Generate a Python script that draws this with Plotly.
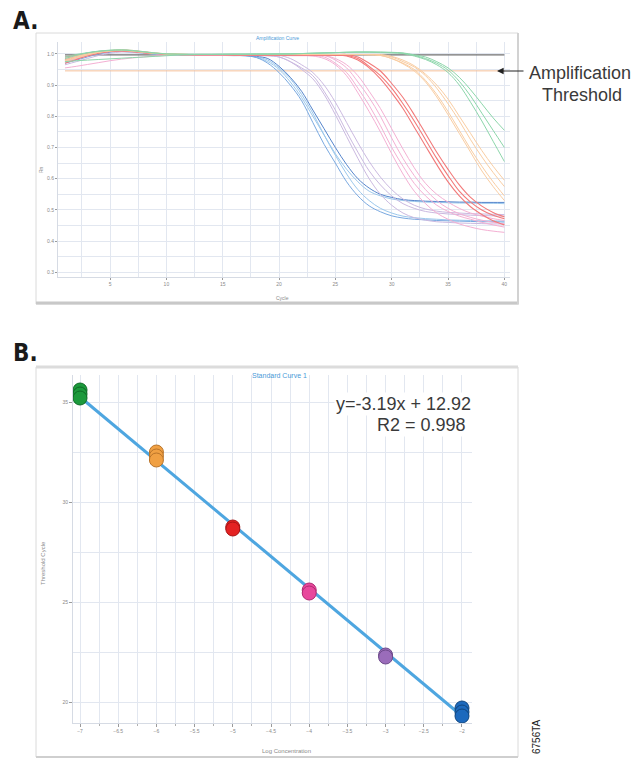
import plotly.graph_objects as go

W, H = 635, 759


def px(x):
    return x / W


def py(y):
    return 1 - y / H


# ---------------- Panel A data: amplification curves (normalised signal per cycle) ----------------
cycles = list(range(1, 41))

blue_1 = [0.970, 0.980, 0.990, 1.000, 1.005, 1.010, 1.008, 1.003, 1.000, 0.998,
          0.997, 0.996, 0.996, 0.996, 0.995, 0.995, 0.994, 0.988, 0.970, 0.940,
          0.900, 0.850, 0.780, 0.710, 0.650, 0.590, 0.545, 0.513, 0.494, 0.481,
          0.474, 0.470, 0.468, 0.466, 0.465, 0.464, 0.463, 0.462, 0.462, 0.461]
blue_2 = [0.985, 0.995, 1.003, 1.008, 1.010, 1.008, 1.005, 1.002, 0.999, 0.997,
          0.996, 0.996, 0.995, 0.995, 0.995, 0.994, 0.994, 0.990, 0.980, 0.955,
          0.920, 0.870, 0.810, 0.740, 0.675, 0.615, 0.565, 0.530, 0.505, 0.490,
          0.480, 0.475, 0.472, 0.470, 0.468, 0.467, 0.466, 0.465, 0.465, 0.464]
blue_3 = [0.975, 0.985, 0.995, 1.003, 1.008, 1.012, 1.010, 1.005, 1.000, 0.998,
          0.997, 0.996, 0.996, 0.995, 0.995, 0.995, 0.994, 0.989, 0.975, 0.950,
          0.910, 0.860, 0.800, 0.740, 0.680, 0.630, 0.590, 0.560, 0.545, 0.535,
          0.530, 0.527, 0.525, 0.524, 0.523, 0.522, 0.522, 0.521, 0.521, 0.520]
blue_4 = [0.980, 0.990, 0.998, 1.004, 1.007, 1.008, 1.006, 1.003, 1.000, 0.998,
          0.997, 0.997, 0.996, 0.996, 0.995, 0.995, 0.995, 0.992, 0.985, 0.960,
          0.925, 0.880, 0.820, 0.760, 0.700, 0.645, 0.600, 0.570, 0.550, 0.540,
          0.533, 0.530, 0.528, 0.527, 0.526, 0.525, 0.525, 0.524, 0.524, 0.524]

purple_1 = [0.965, 0.975, 0.985, 0.995, 1.002, 1.006, 1.006, 1.004, 1.001, 0.999,
            0.998, 0.997, 0.997, 0.996, 0.996, 0.996, 0.995, 0.995, 0.994, 0.990,
            0.975, 0.955, 0.930, 0.880, 0.820, 0.750, 0.685, 0.625, 0.580, 0.545,
            0.520, 0.505, 0.495, 0.490, 0.487, 0.485, 0.483, 0.482, 0.481, 0.480]
purple_2 = [0.980, 0.990, 0.998, 1.004, 1.008, 1.008, 1.005, 1.002, 1.000, 0.998,
            0.997, 0.997, 0.996, 0.996, 0.996, 0.995, 0.995, 0.995, 0.995, 0.995,
            0.985, 0.965, 0.940, 0.900, 0.845, 0.780, 0.715, 0.655, 0.605, 0.565,
            0.535, 0.515, 0.503, 0.496, 0.492, 0.490, 0.488, 0.487, 0.486, 0.485]
purple_3 = [0.990, 0.995, 1.000, 1.005, 1.008, 1.010, 1.008, 1.004, 1.001, 0.999,
            0.998, 0.997, 0.996, 0.996, 0.995, 0.995, 0.995, 0.994, 0.994, 0.990,
            0.975, 0.950, 0.920, 0.870, 0.805, 0.735, 0.665, 0.600, 0.550, 0.515,
            0.490, 0.475, 0.467, 0.462, 0.460, 0.458, 0.457, 0.456, 0.455, 0.455]

pink_1 = [0.955, 0.960, 0.966, 0.972, 0.978, 0.983, 0.987, 0.990, 0.993, 0.995,
          0.996, 0.997, 0.997, 0.997, 0.997, 0.997, 0.997, 0.996, 0.996, 0.996,
          0.996, 0.995, 0.994, 0.990, 0.970, 0.940, 0.890, 0.835, 0.770, 0.700,
          0.640, 0.585, 0.545, 0.515, 0.495, 0.480, 0.470, 0.460, 0.452, 0.445]
pink_2 = [0.975, 0.985, 0.995, 1.003, 1.008, 1.010, 1.008, 1.004, 1.001, 0.999,
          0.998, 0.997, 0.997, 0.996, 0.996, 0.996, 0.996, 0.996, 0.995, 0.995,
          0.995, 0.995, 0.995, 0.995, 0.980, 0.955, 0.910, 0.860, 0.800, 0.730,
          0.665, 0.610, 0.565, 0.530, 0.505, 0.488, 0.476, 0.467, 0.460, 0.455]
pink_3 = [0.985, 0.993, 1.000, 1.006, 1.010, 1.012, 1.010, 1.006, 1.002, 0.999,
          0.998, 0.997, 0.996, 0.996, 0.996, 0.995, 0.995, 0.995, 0.995, 0.995,
          0.994, 0.994, 0.993, 0.985, 0.965, 0.930, 0.875, 0.815, 0.750, 0.680,
          0.615, 0.560, 0.520, 0.490, 0.470, 0.455, 0.445, 0.437, 0.432, 0.428]
pink_4 = [0.978, 0.988, 0.997, 1.004, 1.009, 1.011, 1.009, 1.005, 1.001, 0.999,
          0.998, 0.997, 0.997, 0.997, 0.996, 0.996, 0.996, 0.996, 0.996, 0.996,
          0.996, 0.996, 0.996, 0.995, 0.985, 0.965, 0.930, 0.880, 0.825, 0.760,
          0.695, 0.635, 0.585, 0.550, 0.525, 0.505, 0.490, 0.480, 0.472, 0.466]

red_1 = [0.970, 0.982, 0.993, 1.002, 1.008, 1.011, 1.010, 1.006, 1.002, 0.999,
         0.998, 0.997, 0.997, 0.997, 0.997, 0.997, 0.997, 0.997, 0.997, 0.997,
         0.997, 0.997, 0.997, 0.997, 0.996, 0.995, 0.985, 0.960, 0.930, 0.890,
         0.840, 0.785, 0.725, 0.665, 0.610, 0.560, 0.525, 0.500, 0.483, 0.472]
red_2 = [0.980, 0.990, 0.998, 1.004, 1.008, 1.009, 1.007, 1.004, 1.001, 0.999,
         0.998, 0.998, 0.997, 0.997, 0.997, 0.997, 0.997, 0.997, 0.997, 0.997,
         0.997, 0.997, 0.997, 0.997, 0.997, 0.998, 0.990, 0.970, 0.945, 0.905,
         0.860, 0.805, 0.745, 0.685, 0.630, 0.580, 0.540, 0.512, 0.492, 0.478]
red_3 = [0.990, 0.996, 1.002, 1.007, 1.010, 1.010, 1.008, 1.004, 1.001, 0.999,
         0.998, 0.997, 0.997, 0.997, 0.997, 0.996, 0.996, 0.996, 0.996, 0.996,
         0.996, 0.996, 0.996, 0.996, 0.996, 0.993, 0.980, 0.955, 0.920, 0.875,
         0.825, 0.765, 0.705, 0.645, 0.590, 0.545, 0.510, 0.485, 0.465, 0.452]

orange_1 = [0.975, 0.987, 0.997, 1.005, 1.010, 1.012, 1.010, 1.006, 1.002, 1.000,
            0.999, 0.998, 0.998, 0.998, 0.998, 0.998, 0.998, 0.998, 0.998, 0.998,
            0.998, 0.998, 0.998, 0.998, 0.998, 0.998, 0.998, 0.997, 0.995, 0.985,
            0.970, 0.950, 0.915, 0.870, 0.815, 0.755, 0.695, 0.640, 0.590, 0.545]
orange_2 = [0.985, 0.993, 1.000, 1.006, 1.010, 1.011, 1.009, 1.005, 1.002, 1.000,
            0.999, 0.998, 0.998, 0.998, 0.998, 0.998, 0.998, 0.998, 0.998, 0.998,
            0.998, 0.998, 0.998, 0.998, 0.998, 0.998, 0.998, 0.998, 0.997, 0.990,
            0.975, 0.958, 0.930, 0.890, 0.840, 0.785, 0.725, 0.670, 0.620, 0.575]
orange_3 = [0.980, 0.990, 0.999, 1.006, 1.011, 1.013, 1.011, 1.007, 1.003, 1.000,
            0.999, 0.998, 0.998, 0.998, 0.998, 0.998, 0.998, 0.998, 0.998, 0.998,
            0.998, 0.998, 0.998, 0.998, 0.998, 0.998, 0.998, 0.998, 0.998, 0.992,
            0.980, 0.962, 0.935, 0.900, 0.855, 0.800, 0.745, 0.690, 0.640, 0.595]
orange_4 = [0.978, 0.989, 0.998, 1.005, 1.009, 1.011, 1.009, 1.005, 1.002, 1.000,
            0.999, 0.998, 0.998, 0.998, 0.998, 0.998, 0.998, 0.998, 0.998, 0.998,
            0.998, 0.998, 0.998, 0.998, 0.998, 0.998, 0.998, 0.997, 0.995, 0.985,
            0.968, 0.945, 0.910, 0.862, 0.805, 0.745, 0.685, 0.625, 0.575, 0.530]

green_1 = [0.975, 0.978, 0.980, 0.982, 0.984, 0.986, 0.988, 0.990, 0.992, 0.994,
           0.996, 0.997, 0.998, 0.998, 0.999, 0.999, 0.999, 1.000, 1.000, 1.000,
           1.000, 1.001, 1.002, 1.003, 1.004, 1.005, 1.006, 1.006, 1.006, 1.005,
           1.003, 0.997, 0.990, 0.975, 0.955, 0.925, 0.885, 0.840, 0.795, 0.755]
green_2 = [0.985, 0.995, 1.003, 1.008, 1.011, 1.012, 1.010, 1.006, 1.002, 1.000,
           0.999, 0.999, 0.999, 0.999, 0.999, 0.999, 0.999, 0.999, 0.999, 1.000,
           1.000, 1.001, 1.002, 1.003, 1.004, 1.005, 1.006, 1.006, 1.005, 1.004,
           1.002, 0.995, 0.985, 0.970, 0.948, 0.912, 0.865, 0.810, 0.755, 0.700]
green_3 = [0.990, 0.998, 1.004, 1.009, 1.012, 1.013, 1.011, 1.007, 1.003, 1.000,
           0.999, 0.998, 0.998, 0.998, 0.998, 0.999, 0.999, 0.999, 0.999, 0.999,
           1.000, 1.001, 1.002, 1.003, 1.004, 1.005, 1.005, 1.005, 1.004, 1.003,
           1.001, 0.993, 0.982, 0.965, 0.940, 0.900, 0.845, 0.785, 0.720, 0.655]

ntc_cycles = [1, 40]
ntc_signal = [0.997, 0.997]
threshold = 0.9455

amp_tick_x = [5, 10, 15, 20, 25, 30, 35, 40]
amp_tick_y = [0.3, 0.4, 0.5, 0.6, 0.7, 0.8, 0.9, 1.0]

# ---------------- Panel B data: standard curve ----------------
log_conc = [-7, -6, -5, -4, -3, -2]
ct_replicates = [
    [35.6, 35.4, 35.2],
    [32.5, 32.3, 32.1],
    [28.75, 28.65],
    [25.6, 25.45],
    [22.35, 22.25],
    [19.7, 19.5, 19.3],
]
slope = -3.19
intercept = 12.92
r2 = 0.998
std_tick_x = [-7, -6.5, -6, -5.5, -5, -4.5, -4, -3.5, -3, -2.5, -2]
std_tick_y = [20, 25, 30, 35]

# ---------------- styles ----------------
amp_groups = [
    ([blue_2, blue_3], "#9cc8ec", 1.0),
    ([blue_1], "#78a8e0", 1.0),
    ([blue_4], "#5585cc", 1.0),
    ([purple_1, purple_2, purple_3], "#cbb9e0", 1.0),
    ([pink_1, pink_2, pink_3, pink_4], "#f4b0d3", 1.0),
    ([red_1, red_2, red_3], "#f27a7a", 1.1),
    ([orange_1, orange_2, orange_3, orange_4], "#f9cda2", 1.0),
    ([green_1, green_2, green_3], "#8cd6aa", 1.0),
]
pt_colors = ["#1c9a3c", "#f0a043", "#e42222", "#e8489c", "#9a6cba", "#1c69bd"]
pt_edges = ["#0e6b26", "#b9742a", "#a81414", "#b02a72", "#6d4a8a", "#10467f"]

fig = go.Figure()

# threshold + NTC lines
fig.add_trace(go.Scatter(x=[cycles[0], cycles[-1]], y=[threshold, threshold], mode="lines",
                         line=dict(color="#f5c09a", width=1), xaxis="x", yaxis="y",
                         showlegend=False, hoverinfo="skip"))
fig.add_trace(go.Scatter(x=ntc_cycles, y=ntc_signal, mode="lines",
                         line=dict(color="#707070", width=1.2), xaxis="x", yaxis="y",
                         showlegend=False, hoverinfo="skip"))

for curves, col, wd in amp_groups:
    for c in curves:
        fig.add_trace(go.Scatter(x=cycles, y=c, mode="lines",
                                 line=dict(color=col, width=wd, shape="spline"),
                                 xaxis="x", yaxis="y", showlegend=False, hoverinfo="skip"))

# standard curve fit line
fit_x = [log_conc[0], log_conc[-1]]
fit_y = [slope * v + intercept for v in fit_x]
fig.add_trace(go.Scatter(x=fit_x, y=fit_y, mode="lines",
                         line=dict(color="#4ea6e0", width=3),
                         xaxis="x2", yaxis="y2", showlegend=False, hoverinfo="skip"))

for xv, reps, col, edge in zip(log_conc, ct_replicates, pt_colors, pt_edges):
    fig.add_trace(go.Scatter(x=[xv] * len(reps), y=reps, mode="markers",
                             marker=dict(size=14, color=col, line=dict(color=edge, width=1)),
                             xaxis="x2", yaxis="y2", showlegend=False))

grid = "#e2e7f0"
tickfont = dict(family="Liberation Sans, Arial, sans-serif", size=5, color="#8a8a8a")

fig.update_layout(
    width=W, height=H,
    margin=dict(l=0, r=0, t=0, b=0),
    paper_bgcolor="white",
    plot_bgcolor="white",
    showlegend=False,
    xaxis=dict(domain=[px(58), px(510)], range=[0.38, 40.5], anchor="y",
               tickmode="array", tickvals=amp_tick_x, ticks="outside", ticklen=2,
               tickcolor="#9a9a9a", tickfont=tickfont,
               showgrid=True, gridcolor=grid, gridwidth=1,
               minor=dict(dtick=2.5, tick0=0, showgrid=True, gridcolor=grid, ticks=""),
               zeroline=False, showline=True, linecolor="#d6dbe4", linewidth=1),
    yaxis=dict(domain=[py(277), py(42)], range=[0.285, 1.038], anchor="x",
               tickmode="array", tickvals=amp_tick_y, tickformat=".1f",
               ticks="outside", ticklen=2, tickcolor="#9a9a9a", tickfont=tickfont,
               showgrid=True, gridcolor=grid, gridwidth=1,
               minor=dict(dtick=0.05, tick0=0, showgrid=True, gridcolor=grid, ticks=""),
               zeroline=False, showline=True, linecolor="#d6dbe4", linewidth=1),
    xaxis2=dict(domain=[px(73), px(472)], range=[-7.092, -1.869], anchor="y2",
                tickmode="array", tickvals=std_tick_x, ticks="outside", ticklen=3,
                tickcolor="#9a9a9a", tickfont=tickfont,
                showgrid=True, gridcolor=grid, gridwidth=1,
                minor=dict(dtick=0.25, tick0=-7, showgrid=True, gridcolor=grid,
                           ticks="outside", ticklen=2, tickcolor="#b0b0b0"),
                zeroline=False, showline=True, linecolor="#d6dbe4", linewidth=1),
    yaxis2=dict(domain=[py(723), py(375)], range=[18.95, 36.35], anchor="x2",
                tickmode="array", tickvals=std_tick_y, ticks="outside", ticklen=3,
                tickcolor="#9a9a9a", tickfont=tickfont,
                showgrid=True, gridcolor=grid, gridwidth=1,
                minor=dict(dtick=2.5, tick0=0, showgrid=True, gridcolor=grid, ticks=""),
                zeroline=False, showline=True, linecolor="#d6dbe4", linewidth=1),
)

# panel frames
shapes = [
    dict(type="rect", xref="paper", yref="paper", x0=px(36), x1=px(518), y0=py(304), y1=py(33),
         line=dict(color="#dadada", width=1), layer="below"),
    dict(type="line", xref="paper", yref="paper", x0=px(36), x1=px(519), y0=py(303), y1=py(303),
         line=dict(color="#c8c8c8", width=3)),
    dict(type="line", xref="paper", yref="paper", x0=px(518), x1=px(518), y0=py(33), y1=py(304),
         line=dict(color="#d2d2d2", width=2)),
    dict(type="rect", xref="paper", yref="paper", x0=px(36), x1=px(518), y0=py(757), y1=py(367),
         line=dict(color="#dadada", width=1), layer="below"),
    dict(type="line", xref="paper", yref="paper", x0=px(36), x1=px(518), y0=py(367), y1=py(367),
         line=dict(color="#dcdcdc", width=3)),
    dict(type="line", xref="paper", yref="paper", x0=px(36), x1=px(518), y0=py(757), y1=py(757),
         line=dict(color="#cfcfcf", width=2)),
]
fig.update_layout(shapes=shapes)

small = dict(family="Liberation Sans, Arial, sans-serif", size=5, color="#8a8a8a")
label_font = dict(family="Liberation Sans Narrow, DejaVu Sans Condensed, Arial Narrow, sans-serif",
                  size=24, color="#1a1a1a")
big = dict(family="Liberation Sans, Arial, sans-serif", size=18, color="#3a3a3a")

annotations = [
    dict(text="<b>A.</b>", x=px(11), y=py(21), xref="paper", yref="paper",
         xanchor="left", yanchor="middle", showarrow=False, font=label_font),
    dict(text="<b>B.</b>", x=px(11), y=py(353), xref="paper", yref="paper",
         xanchor="left", yanchor="middle", showarrow=False, font=label_font),
    dict(text="Amplification Curve", x=px(277), y=py(38), xref="paper", yref="paper",
         xanchor="center", yanchor="middle", showarrow=False,
         font=dict(family="Liberation Sans, Arial, sans-serif", size=5, color="#4a9ad8")),
    dict(text="Standard Curve 1", x=px(279), y=py(375), xref="paper", yref="paper",
         xanchor="center", yanchor="middle", showarrow=False,
         font=dict(family="Liberation Sans, Arial, sans-serif", size=7, color="#4a9ad8")),
    dict(text="Rn", x=px(41), y=py(170), xref="paper", yref="paper", textangle=-90,
         xanchor="center", yanchor="middle", showarrow=False, font=small),
    dict(text="Cycle", x=px(282), y=py(298), xref="paper", yref="paper",
         xanchor="center", yanchor="middle", showarrow=False, font=small),
    dict(text="Threshold Cycle", x=px(43), y=py(563), xref="paper", yref="paper", textangle=-90,
         xanchor="center", yanchor="middle", showarrow=False,
         font=dict(family="Liberation Sans, Arial, sans-serif", size=6, color="#8a8a8a")),
    dict(text="Log Concentration", x=px(286), y=py(751), xref="paper", yref="paper",
         xanchor="center", yanchor="middle", showarrow=False,
         font=dict(family="Liberation Sans, Arial, sans-serif", size=6, color="#8a8a8a")),
    # threshold call-out
    dict(text="", x=px(497), y=py(71), xref="paper", yref="paper", showarrow=True,
         ax=28, ay=0, arrowhead=2, arrowsize=1.1, arrowwidth=1.2, arrowcolor="#222222"),
    dict(text="Amplification", x=px(580), y=py(73), xref="paper", yref="paper",
         xanchor="center", yanchor="middle", showarrow=False, font=big),
    dict(text="Threshold", x=px(582), y=py(95), xref="paper", yref="paper",
         xanchor="center", yanchor="middle", showarrow=False, font=big),
    # fit equation
    dict(text=f"y={slope:.2f}x + {intercept:.2f}", x=px(473), y=py(404), xref="paper", yref="paper",
         xanchor="right", yanchor="middle", showarrow=False, font=big, bgcolor="white"),
    dict(text=f"R2 = {r2:.3f}", x=px(468), y=py(425), xref="paper", yref="paper",
         xanchor="right", yanchor="middle", showarrow=False, font=big, bgcolor="white"),
    dict(text="6756TA", x=px(536), y=py(737), xref="paper", yref="paper", textangle=-90,
         xanchor="center", yanchor="middle", showarrow=False,
         font=dict(family="Liberation Sans, Arial, sans-serif", size=10, color="#222222")),
]
fig.update_layout(annotations=annotations)

fig.write_html("out.html")
